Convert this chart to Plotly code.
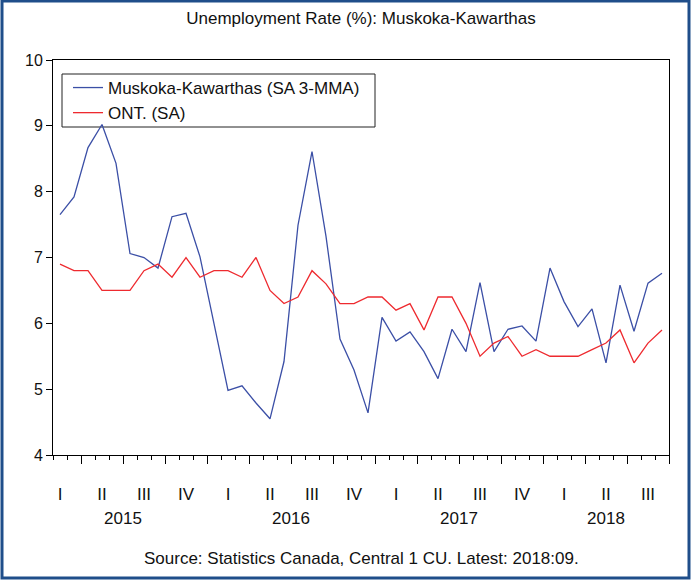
import plotly.graph_objects as go

# Monthly data, Feb 2015 .. Sep 2018
months = [f"{y}-{m:02d}" for y in range(2015, 2019) for m in range(1, 13)]
months = months[1:45]  # Feb 2015 .. Sep 2018 (44 months)

muskoka = [7.65, 7.92, 8.67, 9.02, 8.43, 7.06, 7.00, 6.84, 7.62, 7.67, 7.01,
           6.00, 4.98, 5.05, 4.79, 4.55, 5.42, 7.49, 8.61, 7.32, 5.76, 5.29,
           4.64, 6.09, 5.73, 5.87, 5.57, 5.16, 5.91, 5.57, 6.62, 5.57, 5.91,
           5.96, 5.73, 6.84, 6.33, 5.95, 6.22, 5.40, 6.58, 5.88, 6.61, 6.76]
ontario = [6.9, 6.8, 6.8, 6.5, 6.5, 6.5, 6.8, 6.9, 6.7, 7.0, 6.7,
           6.8, 6.8, 6.7, 7.0, 6.5, 6.3, 6.4, 6.8, 6.6, 6.3, 6.3,
           6.4, 6.4, 6.2, 6.3, 5.9, 6.4, 6.4, 6.0, 5.5, 5.7, 5.8,
           5.5, 5.6, 5.5, 5.5, 5.5, 5.6, 5.7, 5.9, 5.4, 5.7, 5.9]

quarter_labels = ["I", "II", "III", "IV"]
years = [2015, 2016, 2017, 2018]
y_ticks = [4, 5, 6, 7, 8, 9, 10]

n = len(months)
idx = list(range(n))
month_num = [int(m[5:]) for m in months]
year_num = [int(m[:4]) for m in months]

# month boundaries and quarter boundaries
month_bounds = [i - 0.5 for i in range(n + 1)]
quarter_bounds = [i - 0.5 for i in range(n + 1)
                  if i == n or (month_num[i] - 1) % 3 == 0]
# quarter label positions: middle month of each quarter
q_pos, q_txt = [], []
for i in range(n):
    if month_num[i] % 3 == 2:
        q_pos.append(i)
        q_txt.append(quarter_labels[(month_num[i] - 1) // 3])
# year label positions: centre of visible months of each year
y_pos, y_txt = [], []
for yr in years:
    ii = [i for i in range(n) if year_num[i] == yr]
    y_pos.append((ii[0] + ii[-1]) / 2)
    y_txt.append(str(yr))
y_pos[0] = y_pos[0] - 0.5

BLUE = "#3B4FA6"
RED = "#EE2A2F"
FONT = "Liberation Sans, Arial, sans-serif"
FS = 17

fig = go.Figure()
fig.add_trace(go.Scatter(x=idx, y=muskoka, mode="lines",
                         name="Muskoka-Kawarthas (SA 3-MMA)",
                         line=dict(color=BLUE, width=1.3)))
fig.add_trace(go.Scatter(x=idx, y=ontario, mode="lines", name="ONT. (SA)",
                         line=dict(color=RED, width=1.3)))

pw, ph = 616, 395
xr = [-0.5, n - 0.5]
fig.update_layout(
    width=691, height=580,
    margin=dict(l=53, r=22, t=60, b=125, autoexpand=False),
    paper_bgcolor="white", plot_bgcolor="white",
    font=dict(family=FONT, size=FS, color="#111111"),
    title=dict(text="Unemployment Rate (%): Muskoka-Kawarthas",
               x=0.5, xref="paper", y=1 - 18 / 580, yanchor="middle",
               font=dict(size=FS)),
    showlegend=True,
    legend=dict(x=(62 - 53) / pw, y=1 - (70 - 60) / ph, xanchor="left",
                yanchor="top", borderwidth=0, bgcolor="rgba(0,0,0,0)",
                font=dict(size=FS), tracegroupgap=0, itemwidth=30,
                indentation=6),
    xaxis=dict(range=xr, tickvals=quarter_bounds, showticklabels=False,
               ticks="outside", ticklen=8, tickcolor="black",
               minor=dict(tickvals=month_bounds, ticks="outside",
                          ticklen=4, tickcolor="black"),
               showline=True, linecolor="black", linewidth=1, mirror=True,
               showgrid=False, zeroline=False, automargin=False),
    xaxis2=dict(range=xr, overlaying="x", anchor="y", side="bottom",
                tickvals=q_pos, ticktext=q_txt, ticks="",
                ticklabelstandoff=27, showline=False, showgrid=False,
                zeroline=False, automargin=False),
    xaxis3=dict(range=xr, overlaying="x", anchor="y", side="bottom",
                tickvals=y_pos, ticktext=y_txt, ticks="",
                ticklabelstandoff=51, showline=False, showgrid=False,
                zeroline=False, automargin=False),
    yaxis=dict(range=[4, 10], tickvals=y_ticks, ticks="outside", ticklen=6,
               tickcolor="black", showline=True, linecolor="black",
               linewidth=1, mirror=True, showgrid=False, zeroline=False,
               automargin=False, tickfont=dict(size=16)),
)
# empty traces so the overlay axes are drawn
fig.add_trace(go.Scatter(x=[None], y=[None], xaxis="x2", showlegend=False))
fig.add_trace(go.Scatter(x=[None], y=[None], xaxis="x3", showlegend=False))

fig.add_annotation(text="Source: Statistics Canada, Central 1 CU. Latest: 2018:09.",
                   xref="paper", yref="paper", x=0.5, y=(455 - 558) / ph,
                   yanchor="middle", showarrow=False, font=dict(size=FS))

# legend box
fig.add_shape(type="rect", xref="paper", yref="paper",
              x0=(62 - 53) / pw, x1=(375 - 53) / pw,
              y0=(455 - 127) / ph, y1=(455 - 74) / ph,
              line=dict(color="#222222", width=1), fillcolor="white",
              layer="below")

# outer blue frame around the whole picture
fig.add_shape(type="rect", xref="paper", yref="paper",
              x0=(2 - 53) / pw, x1=(689 - 53) / pw,
              y0=(455 - 578) / ph, y1=(455 - 1) / ph,
              line=dict(color="#1F4E8A", width=3), layer="above")

fig.write_html("out.html", config={"displayModeBar": False},
               post_script="document.body.style.margin='0';"
                           "document.body.style.overflow='hidden';")
